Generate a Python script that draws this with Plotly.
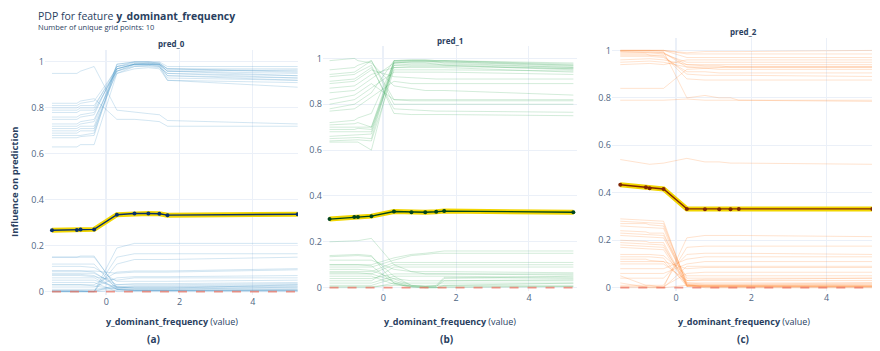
import plotly.graph_objects as go

# the page body has an 8px margin, so the figure is 872x343 inside the 880x351 window
OFF = 8
W, H = 880 - OFF, 351 - OFF

grid_x = [-1.48, -0.8, -0.7, -0.33, 0.29, 0.77, 1.15, 1.45, 1.67, 5.22]
x_tick_vals = [0, 2, 4]
y_tick_vals = [0, 0.2, 0.4, 0.6, 0.8, 1]
class_names = ["pred_0", "pred_1", "pred_2"]
panel_labels = ["(a)", "(b)", "(c)"]
feature_name = "y_dominant_frequency"
n_grid = 10

pdp_pred_0 = [0.267, 0.268, 0.270, 0.271, 0.335, 0.340, 0.340, 0.339, 0.333, 0.337]
pdp_pred_1 = [0.299, 0.308, 0.308, 0.312, 0.332, 0.329, 0.329, 0.331, 0.334, 0.329]
pdp_pred_2 = [0.434, 0.423, 0.419, 0.416, 0.332, 0.331, 0.331, 0.330, 0.332, 0.332]

ice_pred_0 = [
    [0.95, 0.95, 0.96, 0.98, 0.79, 0.78, 0.775, 0.77, 0.745, 0.73],
    [0.82, 0.82, 0.83, 0.84, 0.75, 0.75, 0.745, 0.74, 0.72, 0.72],
    [0.81, 0.81, 0.82, 0.83, 0.97, 0.99, 0.995, 0.99, 0.96, 0.94],
    [0.80, 0.80, 0.81, 0.81, 0.96, 0.99, 0.99, 0.985, 0.94, 0.92],
    [0.79, 0.79, 0.80, 0.80, 0.98, 1.0, 1.0, 0.995, 0.97, 0.97],
    [0.78, 0.78, 0.79, 0.79, 0.96, 0.985, 0.985, 0.98, 0.92, 0.89],
    [0.76, 0.76, 0.77, 0.78, 0.97, 0.99, 0.99, 0.99, 0.95, 0.93],
    [0.75, 0.75, 0.76, 0.77, 0.98, 0.995, 0.995, 0.99, 0.97, 0.96],
    [0.73, 0.73, 0.74, 0.75, 0.95, 0.98, 0.985, 0.98, 0.93, 0.92],
    [0.72, 0.72, 0.73, 0.74, 0.97, 0.99, 0.99, 0.99, 0.96, 0.95],
    [0.71, 0.71, 0.72, 0.72, 0.99, 1.0, 1.0, 1.0, 0.98, 0.98],
    [0.70, 0.70, 0.71, 0.71, 0.96, 0.98, 0.98, 0.975, 0.95, 0.94],
    [0.69, 0.69, 0.70, 0.70, 0.98, 0.99, 0.99, 0.99, 0.96, 0.965],
    [0.68, 0.68, 0.68, 0.69, 0.97, 0.99, 0.99, 0.985, 0.94, 0.93],
    [0.67, 0.67, 0.675, 0.68, 0.99, 1.0, 1.0, 0.995, 0.97, 0.955],
    [0.63, 0.63, 0.64, 0.64, 0.95, 0.97, 0.975, 0.97, 0.92, 0.91],
    [0.15, 0.15, 0.155, 0.155, 0.015, 0.01, 0.01, 0.01, 0.01, 0.02],
    [0.15, 0.15, 0.15, 0.15, 0.02, 0.015, 0.015, 0.015, 0.015, 0.03],
    [0.12, 0.12, 0.12, 0.12, 0.01, 0.005, 0.005, 0.005, 0.005, 0.01],
    [0.09, 0.09, 0.09, 0.09, 0.08, 0.085, 0.085, 0.085, 0.085, 0.095],
    [0.09, 0.09, 0.09, 0.085, 0.02, 0.015, 0.015, 0.015, 0.015, 0.015],
    [0.08, 0.08, 0.08, 0.08, 0.03, 0.03, 0.03, 0.03, 0.03, 0.035],
    [0.075, 0.075, 0.075, 0.07, 0.01, 0.005, 0.005, 0.005, 0.005, 0.005],
    [0.07, 0.07, 0.07, 0.065, 0.05, 0.06, 0.06, 0.06, 0.06, 0.06],
    [0.06, 0.06, 0.06, 0.06, 0.01, 0.01, 0.01, 0.01, 0.01, 0.01],
    [0.05, 0.05, 0.05, 0.05, 0.02, 0.02, 0.02, 0.02, 0.02, 0.02],
    [0.03, 0.03, 0.03, 0.03, 0.085, 0.09, 0.09, 0.09, 0.09, 0.10],
    [0.03, 0.03, 0.03, 0.025, 0.01, 0.005, 0.005, 0.005, 0.005, 0.005],
    [0.02, 0.02, 0.02, 0.02, 0.06, 0.065, 0.065, 0.065, 0.065, 0.07],
    [0.01, 0.01, 0.01, 0.01, 0.02, 0.025, 0.025, 0.025, 0.025, 0.03],
    [0.005, 0.005, 0.005, 0.0, 0.19, 0.21, 0.21, 0.21, 0.21, 0.21],
    [0.0, 0.0, 0.0, 0.0, 0.15, 0.165, 0.165, 0.165, 0.165, 0.165],
    [0.0, 0.0, 0.0, 0.0, 0.12, 0.14, 0.14, 0.14, 0.14, 0.15],
    [0.0, 0.0, 0.0, 0.0, 0.03, 0.035, 0.035, 0.035, 0.035, 0.04],
    [0.005, 0.005, 0.005, 0.005, 0.015, 0.02, 0.02, 0.02, 0.02, 0.025],
    [0.0, 0.0, 0.0, 0.0, 0.005, 0.005, 0.005, 0.005, 0.005, 0.005],
    [0.11, 0.11, 0.11, 0.105, 0.045, 0.045, 0.045, 0.045, 0.045, 0.05],
    [0.04, 0.04, 0.04, 0.04, 0.0, 0.0, 0.0, 0.0, 0.0, 0.0],
]

ice_pred_1 = [
    [0.99, 1.0, 0.99, 0.98, 0.88, 0.87, 0.86, 0.86, 0.86, 0.84],
    [0.95, 0.96, 0.97, 0.99, 0.82, 0.82, 0.82, 0.82, 0.82, 0.82],
    [0.93, 0.94, 0.95, 0.99, 0.80, 0.80, 0.80, 0.80, 0.80, 0.80],
    [0.92, 0.93, 0.94, 0.97, 0.76, 0.755, 0.755, 0.755, 0.755, 0.75],
    [0.90, 0.91, 0.92, 0.96, 0.78, 0.775, 0.77, 0.77, 0.77, 0.765],
    [0.89, 0.90, 0.91, 0.95, 0.92, 0.915, 0.91, 0.91, 0.91, 0.91],
    [0.87, 0.88, 0.89, 0.93, 0.96, 0.965, 0.965, 0.965, 0.965, 0.955],
    [0.85, 0.86, 0.87, 0.91, 0.98, 0.985, 0.985, 0.985, 0.985, 0.97],
    [0.82, 0.84, 0.85, 0.89, 0.82, 0.815, 0.815, 0.815, 0.815, 0.815],
    [0.80, 0.82, 0.83, 0.87, 0.94, 0.94, 0.94, 0.94, 0.94, 0.93],
    [0.78, 0.80, 0.81, 0.85, 0.99, 0.99, 0.99, 0.99, 0.99, 0.98],
    [0.77, 0.78, 0.79, 0.83, 0.90, 0.89, 0.89, 0.89, 0.89, 0.89],
    [0.72, 0.73, 0.74, 0.76, 0.98, 0.98, 0.98, 0.975, 0.975, 0.96],
    [0.71, 0.715, 0.72, 0.70, 0.97, 0.975, 0.975, 0.975, 0.97, 0.95],
    [0.70, 0.70, 0.70, 0.70, 0.99, 0.995, 0.995, 0.99, 0.99, 0.975],
    [0.69, 0.69, 0.695, 0.69, 0.96, 0.96, 0.96, 0.96, 0.96, 0.94],
    [0.68, 0.68, 0.68, 0.68, 0.985, 0.99, 0.99, 0.985, 0.985, 0.965],
    [0.66, 0.665, 0.665, 0.67, 0.97, 0.97, 0.97, 0.97, 0.97, 0.955],
    [0.65, 0.655, 0.655, 0.65, 0.99, 0.99, 0.99, 0.99, 0.99, 0.97],
    [0.64, 0.645, 0.645, 0.64, 0.95, 0.95, 0.95, 0.95, 0.95, 0.945],
    [0.635, 0.635, 0.635, 0.60, 0.98, 0.985, 0.985, 0.985, 0.98, 0.96],
    [0.14, 0.145, 0.145, 0.14, 0.02, 0.005, 0.0, 0.0, 0.01, 0.02],
    [0.135, 0.14, 0.14, 0.135, 0.05, 0.01, 0.005, 0.005, 0.04, 0.05],
    [0.20, 0.205, 0.205, 0.215, 0.10, 0.07, 0.06, 0.06, 0.06, 0.055],
    [0.10, 0.10, 0.10, 0.10, 0.13, 0.145, 0.15, 0.155, 0.16, 0.16],
    [0.09, 0.09, 0.09, 0.09, 0.12, 0.14, 0.145, 0.15, 0.15, 0.15],
    [0.08, 0.08, 0.08, 0.075, 0.04, 0.01, 0.005, 0.01, 0.045, 0.04],
    [0.07, 0.07, 0.07, 0.07, 0.11, 0.11, 0.11, 0.11, 0.11, 0.11],
    [0.065, 0.065, 0.065, 0.06, 0.03, 0.005, 0.0, 0.0, 0.005, 0.005],
    [0.06, 0.06, 0.06, 0.06, 0.10, 0.10, 0.10, 0.10, 0.10, 0.10],
    [0.05, 0.05, 0.05, 0.05, 0.015, 0.005, 0.005, 0.005, 0.03, 0.035],
    [0.04, 0.04, 0.04, 0.04, 0.06, 0.06, 0.06, 0.06, 0.06, 0.06],
    [0.03, 0.03, 0.03, 0.03, 0.09, 0.09, 0.09, 0.09, 0.09, 0.09],
    [0.02, 0.02, 0.02, 0.02, 0.05, 0.05, 0.05, 0.05, 0.05, 0.045],
    [0.01, 0.01, 0.01, 0.01, 0.04, 0.03, 0.03, 0.03, 0.03, 0.03],
    [0.005, 0.005, 0.005, 0.005, 0.01, 0.01, 0.01, 0.01, 0.01, 0.01],
    [0.0, 0.0, 0.0, 0.0, 0.02, 0.02, 0.02, 0.02, 0.02, 0.02],
    [0.10, 0.10, 0.10, 0.095, 0.02, 0.0, 0.0, 0.0, 0.0, 0.005],
    [0.12, 0.12, 0.12, 0.12, 0.08, 0.07, 0.07, 0.07, 0.07, 0.065],
]

ice_pred_2 = [
    [1.0, 1.0, 1.0, 1.0, 0.97, 0.97, 0.97, 0.97, 0.97, 0.97],
    [1.0, 1.0, 1.0, 1.0, 0.99, 0.995, 0.995, 0.995, 0.995, 1.0],
    [1.0, 1.0, 1.0, 0.995, 0.80, 0.81, 0.80, 0.80, 0.79, 0.785],
    [0.995, 0.995, 0.995, 0.99, 0.94, 0.935, 0.935, 0.93, 0.93, 0.93],
    [0.995, 0.99, 0.99, 0.99, 0.93, 0.925, 0.92, 0.92, 0.92, 0.92],
    [0.99, 0.99, 0.99, 0.985, 0.95, 0.95, 0.95, 0.95, 0.95, 0.95],
    [0.985, 0.985, 0.98, 0.98, 0.88, 0.875, 0.875, 0.875, 0.875, 0.875],
    [0.98, 0.98, 0.98, 0.975, 0.90, 0.895, 0.895, 0.895, 0.895, 0.89],
    [0.975, 0.975, 0.975, 0.97, 0.91, 0.91, 0.905, 0.905, 0.905, 0.905],
    [0.96, 0.965, 0.965, 0.96, 0.94, 0.94, 0.94, 0.94, 0.94, 0.94],
    [0.95, 0.955, 0.955, 0.95, 0.93, 0.93, 0.93, 0.93, 0.93, 0.93],
    [0.94, 0.945, 0.945, 0.94, 0.96, 0.96, 0.96, 0.96, 0.96, 0.96],
    [1.0, 1.0, 1.0, 1.0, 0.985, 0.985, 0.985, 0.985, 0.985, 0.985],
    [0.84, 0.84, 0.84, 0.84, 0.92, 0.925, 0.93, 0.93, 0.93, 0.93],
    [0.79, 0.79, 0.79, 0.79, 0.795, 0.79, 0.79, 0.79, 0.79, 0.79],
    [0.54, 0.52, 0.52, 0.525, 0.545, 0.53, 0.53, 0.525, 0.525, 0.52],
    [0.29, 0.285, 0.285, 0.28, 0.01, 0.005, 0.005, 0.005, 0.005, 0.005],
    [0.28, 0.275, 0.275, 0.27, 0.015, 0.01, 0.01, 0.01, 0.01, 0.01],
    [0.27, 0.27, 0.265, 0.26, 0.02, 0.015, 0.015, 0.015, 0.015, 0.02],
    [0.26, 0.255, 0.255, 0.25, 0.005, 0.0, 0.0, 0.0, 0.0, 0.0],
    [0.24, 0.235, 0.23, 0.23, 0.01, 0.005, 0.005, 0.005, 0.005, 0.005],
    [0.22, 0.215, 0.215, 0.21, 0.03, 0.035, 0.035, 0.035, 0.035, 0.04],
    [0.20, 0.195, 0.19, 0.19, 0.01, 0.01, 0.01, 0.01, 0.01, 0.01],
    [0.19, 0.185, 0.185, 0.18, 0.005, 0.005, 0.005, 0.005, 0.005, 0.005],
    [0.18, 0.175, 0.175, 0.17, 0.02, 0.02, 0.02, 0.02, 0.02, 0.02],
    [0.17, 0.165, 0.165, 0.16, 0.01, 0.01, 0.01, 0.01, 0.01, 0.015],
    [0.14, 0.14, 0.14, 0.135, 0.05, 0.05, 0.05, 0.05, 0.05, 0.05],
    [0.13, 0.13, 0.13, 0.125, 0.005, 0.005, 0.005, 0.005, 0.005, 0.005],
    [0.12, 0.12, 0.115, 0.11, 0.08, 0.085, 0.085, 0.085, 0.085, 0.085],
    [0.10, 0.10, 0.10, 0.10, 0.03, 0.03, 0.03, 0.03, 0.03, 0.03],
    [0.08, 0.08, 0.08, 0.08, 0.12, 0.13, 0.13, 0.13, 0.13, 0.13],
    [0.06, 0.06, 0.06, 0.06, 0.10, 0.11, 0.11, 0.11, 0.11, 0.11],
    [0.04, 0.04, 0.04, 0.04, 0.14, 0.145, 0.145, 0.145, 0.145, 0.14],
    [0.02, 0.0, 0.0, 0.0, 0.21, 0.22, 0.22, 0.22, 0.22, 0.215],
    [0.01, 0.01, 0.01, 0.01, 0.17, 0.175, 0.175, 0.175, 0.175, 0.175],
    [0.0, 0.0, 0.0, 0.0, 0.09, 0.09, 0.09, 0.09, 0.09, 0.09],
    [0.005, 0.005, 0.005, 0.005, 0.06, 0.065, 0.065, 0.065, 0.065, 0.065],
    [0.11, 0.11, 0.11, 0.11, 0.015, 0.0, 0.0, 0.0, 0.0, 0.0],
    [0.23, 0.225, 0.225, 0.22, 0.04, 0.04, 0.04, 0.04, 0.04, 0.04],
    [0.05, 0.01, 0.01, 0.0, 0.01, 0.01, 0.01, 0.01, 0.01, 0.01],
]

pdp_all = [pdp_pred_0, pdp_pred_1, pdp_pred_2]
ice_all = [ice_pred_0, ice_pred_1, ice_pred_2]

# styles
ice_colors = ["rgba(66,146,198,0.26)", "rgba(65,171,93,0.26)", "rgba(253,141,60,0.28)"]
dark_colors = ["#08306b", "#00441b", "#7f2704"]
yellow = "#F2D600"

# panel geometry in window pixels: (left, right, top, bottom), x range, y range
panels = [
    dict(px=(45, 298), py=(50, 297), xr=(-1.67, 5.23), yr=(-0.016, 1.053), title_y=44),
    dict(px=(323, 577), py=(46, 293), xr=(-1.66, 5.32), yr=(-0.016, 1.055), title_y=41),
    dict(px=(612, 875), py=(38, 293), xr=(-1.70, 5.29), yr=(-0.0155, 1.053), title_y=32),
]


def fx(px):
    return (px - OFF) / W


def fy(py):
    return 1 - (py - OFF) / H


fig = go.Figure()
annotations = []
layout_axes = {}

for i in range(3):
    p = panels[i]
    xa = "x" if i == 0 else f"x{i+1}"
    ya = "y" if i == 0 else f"y{i+1}"
    xkey = "xaxis" if i == 0 else f"xaxis{i+1}"
    ykey = "yaxis" if i == 0 else f"yaxis{i+1}"

    for line in ice_all[i]:
        fig.add_trace(go.Scatter(
            x=grid_x, y=line, mode="lines", xaxis=xa, yaxis=ya,
            line=dict(color=ice_colors[i], width=0.9), hoverinfo="skip", showlegend=False))

    # zero reference line
    fig.add_trace(go.Scatter(
        x=[grid_x[0], grid_x[-1]], y=[0, 0], mode="lines", xaxis=xa, yaxis=ya,
        line=dict(color="rgba(236,110,90,0.7)", width=1.6, dash="dash"),
        hoverinfo="skip", showlegend=False))

    # PDP line: yellow band + dark line + markers
    fig.add_trace(go.Scatter(
        x=grid_x, y=pdp_all[i], mode="lines", xaxis=xa, yaxis=ya,
        line=dict(color=yellow, width=5), hoverinfo="skip", showlegend=False))
    fig.add_trace(go.Scatter(
        x=grid_x, y=pdp_all[i], mode="lines+markers", xaxis=xa, yaxis=ya,
        line=dict(color=dark_colors[i], width=1.4),
        marker=dict(color=dark_colors[i], size=4),
        showlegend=False))

    layout_axes[xkey] = dict(
        domain=[fx(p["px"][0]), fx(p["px"][1])], range=list(p["xr"]), anchor=ya,
        tickvals=x_tick_vals, tickfont=dict(size=9, color="#506784"),
        showgrid=True, gridcolor="#EBF0F8", zeroline=True, zerolinecolor="#EBF0F8",
        zerolinewidth=2, showline=False, ticks="")
    layout_axes[ykey] = dict(
        domain=[fy(p["py"][1]), fy(p["py"][0])], range=list(p["yr"]), anchor=xa,
        tickvals=y_tick_vals, tickfont=dict(size=9, color="#506784"),
        showgrid=True, gridcolor="#EBF0F8", zeroline=False, showline=False, ticks="")

    cx = fx((p["px"][0] + p["px"][1]) / 2)
    annotations.append(dict(
        text=f"<b>{class_names[i]}</b>", x=cx, y=fy(p["title_y"]),
        xref="paper", yref="paper", showarrow=False, xanchor="center", yanchor="middle",
        font=dict(size=8, color="#2a3f5f")))
    annotations.append(dict(
        text=f"<b>{feature_name}</b> (value)", x=cx, y=fy(323),
        xref="paper", yref="paper", showarrow=False, xanchor="center", yanchor="middle",
        font=dict(size=9, color="#2a3f5f")))
    label_x = [153, 446, 743][i]
    annotations.append(dict(
        text=f"<b>{panel_labels[i]}</b>", x=fx(label_x), y=fy(341),
        xref="paper", yref="paper", showarrow=False, xanchor="center", yanchor="middle",
        font=dict(size=10, color="#2a3f5f")))

# main title and subtitle as one two-line text block
annotations.append(dict(
    text=(f"<span style='font-size:10.5px'>PDP for feature <b>{feature_name}</b></span>"
          f"<br>Number of unique grid points: {n_grid}"),
    x=fx(37), y=1, xref="paper", yref="paper", showarrow=False,
    xanchor="left", yanchor="top", align="left", borderpad=0,
    font=dict(size=7.5, color="#2a3f5f")))
annotations.append(dict(
    text="<b>Influence on prediction</b>", x=fx(15), y=fy(183),
    xref="paper", yref="paper", showarrow=False, xanchor="center", yanchor="middle",
    textangle=-90, font=dict(size=9.5, color="#2a3f5f")))

fig.update_layout(
    width=W, height=H, template="plotly_white",
    margin=dict(l=0, r=0, t=0, b=0),
    paper_bgcolor="white", plot_bgcolor="white",
    font=dict(family="Open Sans, Verdana, Arial, sans-serif", color="#2a3f5f"),
    annotations=annotations, showlegend=False,
    **layout_axes,
)

fig.write_html("out.html")
